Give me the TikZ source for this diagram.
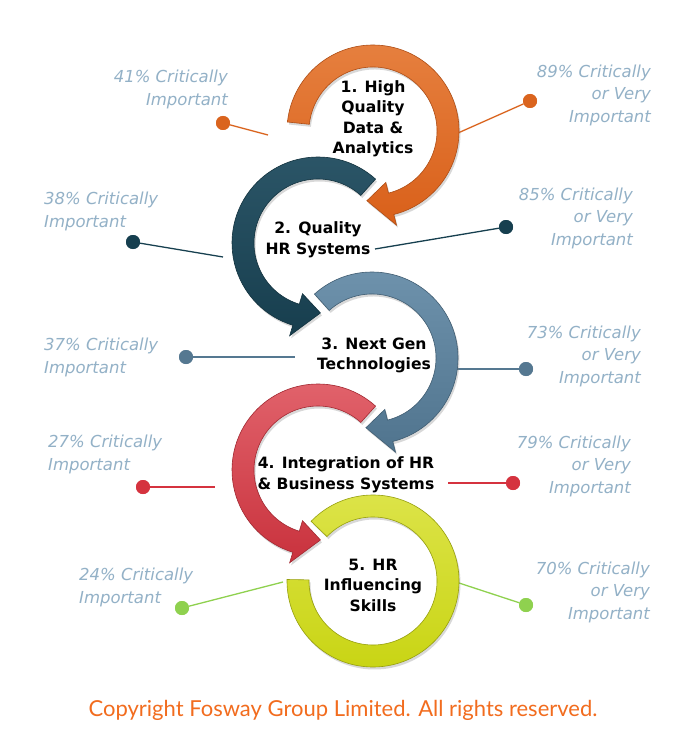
\documentclass[tikz,border=0pt]{standalone}
\usepackage{fontspec}
\usetikzlibrary{shadows}
\newfontfamily\ctrfont{DejaVu Sans}
\newfontfamily\lblfont{DejaVu Sans}
\newfontfamily\cpfont{Lato}
\definecolor{oA}{HTML}{E6803F}\definecolor{oB}{HTML}{D9601A}
\definecolor{tA}{HTML}{2C5668}\definecolor{tB}{HTML}{173E4E}
\definecolor{sA}{HTML}{6F93AD}\definecolor{sB}{HTML}{50748E}
\definecolor{rA}{HTML}{E2646D}\definecolor{rB}{HTML}{C9323D}
\definecolor{gA}{HTML}{DDE44A}\definecolor{gB}{HTML}{C8D412}
\definecolor{dO}{HTML}{DA641E}\definecolor{dT}{HTML}{163F4F}
\definecolor{dS}{HTML}{557891}\definecolor{dR}{HTML}{D5333F}
\definecolor{dG}{HTML}{8FD14F}
\definecolor{lbl}{HTML}{93B1C7}
\definecolor{cpc}{HTML}{F26C1E}
\tikzset{
  ringstyle/.style={line width=0.6pt, drop shadow={shadow xshift=1.5pt, shadow yshift=-2.5pt, opacity=0.3}},
  dotnode/.style={circle, fill=#1, inner sep=0pt, minimum size=14pt},
  conn/.style={line width=1.3pt, draw=#1},
  ctrtext/.style={align=center, font=\ctrfont\bfseries\fontsize{15.6}{20.5}\selectfont, inner sep=0pt},
  lbltext/.style={font=\lblfont\itshape\fontsize{16.5}{22.5}\selectfont, text=lbl, inner sep=0pt},
  lblL/.style={lbltext, anchor=west, align=left},
  lblR/.style={lbltext, anchor=east, align=right},
}
\newcommand\RingCW[5]{%
  \path[ringstyle, top color=#4, bottom color=#5, draw=#5!80!black]
   ([shift={(#2:86)}]#1) arc[start angle=#2, end angle=#3, radius=86pt]
   -- ([shift={(#3:97)}]#1) -- ([shift={(#3-19:70)}]#1) -- ([shift={(#3:53)}]#1)
   -- ([shift={(#3:64)}]#1) arc[start angle=#3, end angle=#2, radius=64pt] -- cycle;}
\newcommand\RingCCW[5]{%
  \path[ringstyle, top color=#4, bottom color=#5, draw=#5!80!black]
   ([shift={(#2:86)}]#1) arc[start angle=#2, end angle=#3, radius=86pt]
   -- ([shift={(#3:97)}]#1) -- ([shift={(#3+19:70)}]#1) -- ([shift={(#3:53)}]#1)
   -- ([shift={(#3:64)}]#1) arc[start angle=#3, end angle=#2, radius=64pt] -- cycle;}
\begin{document}
\begin{tikzpicture}[x=1pt,y=1pt]
\useasboundingbox (0,0) rectangle (688,-738);
\fill[white] (0,0) rectangle (688,-738);
% ring centres
\coordinate (c1) at (373,-131);
\coordinate (c2) at (318,-243);
\coordinate (c3) at (372,-358);
\coordinate (c4) at (318,-470);
\coordinate (c5) at (373,-581);
% dots
\node[dotnode=dO] (dL1) at (223,-123) {};
\node[dotnode=dO] (dR1) at (530,-101) {};
\node[dotnode=dT] (dL2) at (133,-242) {};
\node[dotnode=dT] (dR2) at (506,-227) {};
\node[dotnode=dS] (dL3) at (186,-357) {};
\node[dotnode=dS] (dR3) at (526,-369) {};
\node[dotnode=dR] (dL4) at (143,-487) {};
\node[dotnode=dR] (dR4) at (513,-483) {};
\node[dotnode=dG] (dL5) at (182,-608) {};
\node[dotnode=dG] (dR5) at (526,-605) {};
% connector ends
\coordinate (eL1) at (268,-135);
\coordinate (eR1) at (458,-133);
\coordinate (eL2) at (223,-257);
\coordinate (eR2) at (375,-249);
\coordinate (eL3) at (295,-357);
\coordinate (eR3) at (456,-369);
\coordinate (eL4) at (215,-487);
\coordinate (eR4) at (448,-483);
\coordinate (eL5) at (283,-582);
\coordinate (eR5) at (456,-582);
% connectors
\draw[conn=dO] (dL1) -- (eL1);
\draw[conn=dO] (eR1) -- (dR1);
\draw[conn=dT] (dL2) -- (eL2);
\draw[conn=dT] (eR2) -- (dR2);
\draw[conn=dS] (dL3) -- (eL3);
\draw[conn=dS] (eR3) -- (dR3);
\draw[conn=dR] (dL4) -- (eL4);
\draw[conn=dR] (eR4) -- (dR4);
\draw[conn=dG] (dL5) -- (eL5);
\draw[conn=dG] (eR5) -- (dR5);
% rings (later ones underneath)
\path[ringstyle, top color=gA, bottom color=gB, draw=gB!75!black]
  ([shift={(136:86)}]c5) arc[start angle=136, end angle=-181, radius=86pt]
  -- ([shift={(-181:64)}]c5) arc[start angle=-181, end angle=136, radius=64pt] -- cycle;
\RingCCW{c4}{48}{253}{rA}{rB}
\RingCW{c3}{132}{-76}{sA}{sB}
\RingCCW{c2}{48}{253}{tA}{tB}
\RingCW{c1}{174}{-76}{oA}{oB}
% redraw dots on top
\node[dotnode=dO] at (dL1) {};
\node[dotnode=dO] at (dR1) {};
\node[dotnode=dT] at (dL2) {};
\node[dotnode=dT] at (dR2) {};
\node[dotnode=dS] at (dL3) {};
\node[dotnode=dS] at (dR3) {};
\node[dotnode=dR] at (dL4) {};
\node[dotnode=dR] at (dR4) {};
\node[dotnode=dG] at (dL5) {};
\node[dotnode=dG] at (dR5) {};
% centre texts
\node[ctrtext] (t1) at (373,-119) {1. High\\Quality\\Data \&\\Analytics};
\node[ctrtext] (t2) at (318,-240) {2. Quality\\HR Systems};
\node[ctrtext] (t3) at (374,-355.5) {3. Next Gen\\Technologies};
\node[ctrtext] (t4) at (346,-475) {4. Integration of HR\\\& Business Systems};
\node[ctrtext] (t5) at (373,-585) {5. HR\\Influencing\\Skills};
% labels
\node[lblR] (L1) at (228,-89.5) {41\% Critically\\Important};
\node[lblL] (L2) at (44,-211.5) {38\% Critically\\Important};
\node[lblL] (L3) at (44,-357.5) {37\% Critically\\Important};
\node[lblL] (L4) at (48,-454.5) {27\% Critically\\Important};
\node[lblL] (L5) at (79,-587.5) {24\% Critically\\Important};
\node[lblR] (R1) at (651,-95) {89\% Critically\\or Very\\Important};
\node[lblR] (R2) at (633,-218) {85\% Critically\\or Very\\Important};
\node[lblR] (R3) at (641,-356) {73\% Critically\\or Very\\Important};
\node[lblR] (R4) at (631,-466) {79\% Critically\\or Very\\Important};
\node[lblR] (R5) at (650,-592) {70\% Critically\\or Very\\Important};
% copyright
\node[font=\cpfont\fontsize{22}{25}\selectfont, text=cpc, inner sep=0pt] (cp) at (343,-710) {Copyright Fosway Group Limited. All rights reserved.};
\end{tikzpicture}
\end{document}
